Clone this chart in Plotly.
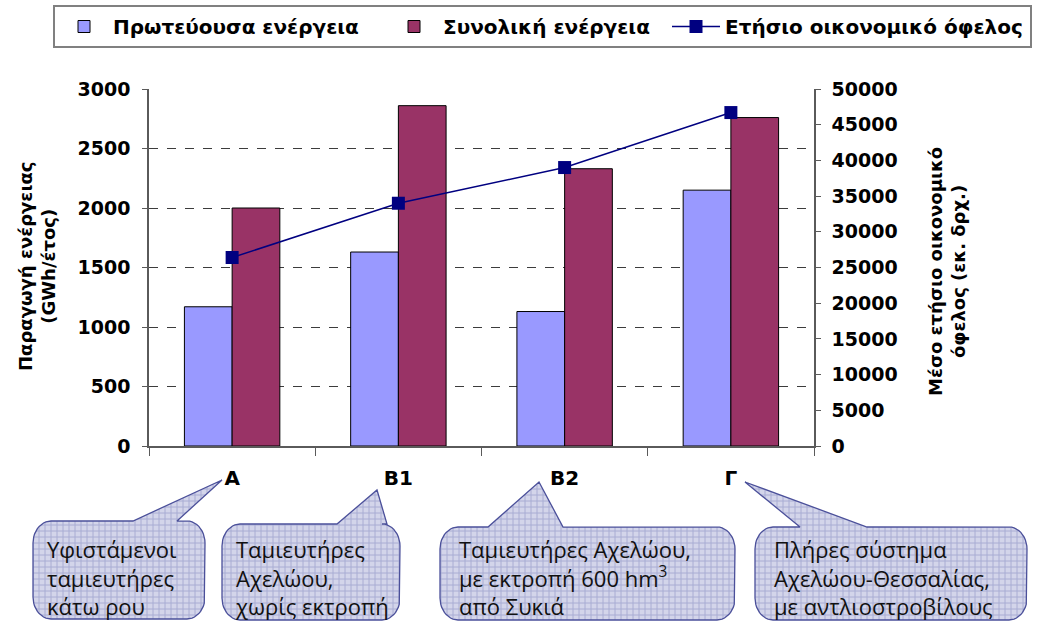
import numpy as np
import plotly.graph_objects as go

W, H = 1041, 621

# --- data ---
categories = ["Α", "Β1", "Β2", "Γ"]
primary_energy = [1170, 1630, 1130, 2150]      # GWh/έτος
total_energy = [2000, 2860, 2330, 2760]        # GWh/έτος
annual_benefit = [26400, 34000, 39000, 46700]  # εκ. δρχ.

series_names = ["Πρωτεύουσα ενέργεια", "Συνολική ενέργεια", "Ετήσιο οικονομικό όφελος"]

left_ticks = list(range(0, 3001, 500))
right_ticks = list(range(0, 50001, 5000))

callout_texts = [
    "Υφιστάμενοι<br>ταμιευτήρες<br>κάτω ρου",
    "Ταμιευτήρες<br>Αχελώου,<br>χωρίς εκτροπή",
    "Ταμιευτήρες Αχελώου,<br>με εκτροπή 600 hm<sup>3</sup><br>από Συκιά",
    "Πλήρες σύστημα<br>Αχελώου-Θεσσαλίας,<br>με αντλιοστροβίλους",
]

# callout geometry in page pixels: box x0, x1, y0, y1 / tail base left, right / tip x, y / text x
callout_boxes = [
    (33, 205, 521, 619, 133, 177, 222, 480, 45),
    (222, 400, 524, 620, 337, 387, 377, 490, 233),
    (440, 735, 527, 620, 488, 563, 539, 482, 457),
    (755, 1027, 527, 620, 800, 867, 745, 482, 772),
]

FONT = "DejaVu Sans"
BOLD = dict(family=FONT, size=18, color="black", weight="bold")
TICK = dict(family=FONT, size=19, color="black", weight="bold")


def b(s):
    return f"<b>{s}</b>"


def bubble(x0, x1, y0, y1, bl, br, tx, ty, rx=18, ry=22):
    def arc(cx, cy, a0, a1):
        t = np.linspace(a0, a1, 12)
        return list(zip(cx + rx * np.cos(t), cy + ry * np.sin(t)))
    pts = arc(x0 + rx, y0 + ry, np.pi, 1.5 * np.pi)
    pts += [(bl, y0), (tx, ty), (br, y0)]
    pts += arc(x1 - rx, y0 + ry, 1.5 * np.pi, 2 * np.pi)
    pts += arc(x1 - rx, y1 - ry, 0, 0.5 * np.pi)
    pts += arc(x0 + rx, y1 - ry, 0.5 * np.pi, np.pi)
    pts.append(pts[0])
    xs, ys = zip(*pts)
    return list(xs), list(ys)


fig = go.Figure()
fig.add_trace(go.Bar(
    x=categories, y=primary_energy, name=b(series_names[0]), legendwidth=267,
    marker=dict(color="#9999FF", line=dict(color="black", width=1)),
))
fig.add_trace(go.Bar(
    x=categories, y=total_energy, name=b(series_names[1]), legendwidth=219,
    marker=dict(color="#993366", line=dict(color="black", width=1)),
))
fig.add_trace(go.Scatter(
    x=categories, y=annual_benefit, name=b(series_names[2]), yaxis="y2",
    legendwidth=300, mode="lines+markers",
    line=dict(color="#000080", width=1.5),
    marker=dict(symbol="square", size=13, color="#000080"),
))

# speech-bubble callouts on a full-page pixel axis
for (x0, x1, y0, y1, bl, br, tx, ty, _) in callout_boxes:
    bx, by = bubble(x0, x1, y0, y1, bl, br, tx, ty)
    fig.add_trace(go.Scatter(
        x=bx, y=by, xaxis="x3", yaxis="y3", mode="lines", fill="toself",
        fillpattern=dict(shape="+", bgcolor="#d3d5ea", fgcolor="#7d82bb",
                         size=6, solidity=0.3),
        line=dict(color="#4b509a", width=1.3),
        hoverinfo="skip", showlegend=False,
    ))

annotations = []
for box, txt in zip(callout_boxes, callout_texts):
    annotations.append(dict(
        x=box[8] / W, y=1 - 577 / H, xref="paper", yref="paper",
        xanchor="left", yanchor="middle", align="left", showarrow=False,
        text=txt, font=dict(family="Open Sans", size=22, color="#111111"),
    ))

annotations += [
    dict(x=37 / W, y=1 - 267 / H, xref="paper", yref="paper", showarrow=False,
         xanchor="center", yanchor="middle",
         textangle=-90, text=b("Παραγωγή ενέργειας<br>(GWh/έτος)"), font=BOLD),
    dict(x=947 / W, y=1 - 272 / H, xref="paper", yref="paper", showarrow=False,
         xanchor="center", yanchor="middle",
         textangle=-90, text=b("Μέσο ετήσιο οικονομικό<br>όφελος (εκ. δρχ.)"), font=BOLD),
]

axis_line = "#5a5a5a"
fig.update_layout(
    width=W, height=H, autosize=False,
    margin=dict(l=0, r=0, t=0, b=0, autoexpand=False),
    paper_bgcolor="white", plot_bgcolor="rgba(0,0,0,0)",
    barmode="group", bargap=0.426, bargroupgap=0,
    font=dict(family=FONT, color="black"),
    xaxis=dict(
        domain=[149 / W, 814 / W], type="category", range=[-0.5, 3.5],
        tickvals=categories, ticktext=[b(c) for c in categories],
        showline=True, linecolor=axis_line, linewidth=1.5,
        ticks="outside", tickson="boundaries", ticklen=8, tickcolor=axis_line,
        tickfont=dict(family=FONT, size=20, color="black", weight="bold"),
        ticklabelstandoff=13,
        showgrid=False, automargin=False,
    ),
    yaxis=dict(
        domain=[1 - 446 / H, 1 - 89 / H], range=[0, 3000],
        tickvals=left_ticks, ticktext=[b(v) for v in left_ticks],
        showline=True, linecolor=axis_line, linewidth=1.5,
        ticks="outside", ticklen=5, tickcolor=axis_line,
        showgrid=True, gridcolor="#3c3c3c", griddash="dash", gridwidth=1,
        zeroline=False, tickfont=TICK, ticklabelstandoff=8, automargin=False,
    ),
    yaxis2=dict(
        overlaying="y", side="right", anchor="x", range=[0, 50000],
        tickvals=right_ticks, ticktext=[b(v) for v in right_ticks],
        showline=True, linecolor=axis_line, linewidth=1.5,
        ticks="outside", ticklen=5, tickcolor=axis_line,
        showgrid=False, zeroline=False, tickfont=TICK, ticklabelstandoff=7,
        automargin=False,
    ),
    xaxis3=dict(domain=[0, 1], range=[0, W], visible=False, anchor="y3", fixedrange=True),
    yaxis3=dict(domain=[0, 1], range=[H, 0], visible=False, anchor="x3", fixedrange=True),
    legend=dict(
        orientation="h", x=53 / W, y=1 - 5 / H, xanchor="left", yanchor="top",
        bgcolor="white", bordercolor="#808080", borderwidth=2, itemwidth=48,
        font=dict(family=FONT, size=20, color="black", weight="bold"),
        traceorder="normal",
    ),
    annotations=annotations,
    showlegend=True,
)

fig.write_html("out.html", config={"displayModeBar": False},
               post_script="document.body.style.margin='0';")
